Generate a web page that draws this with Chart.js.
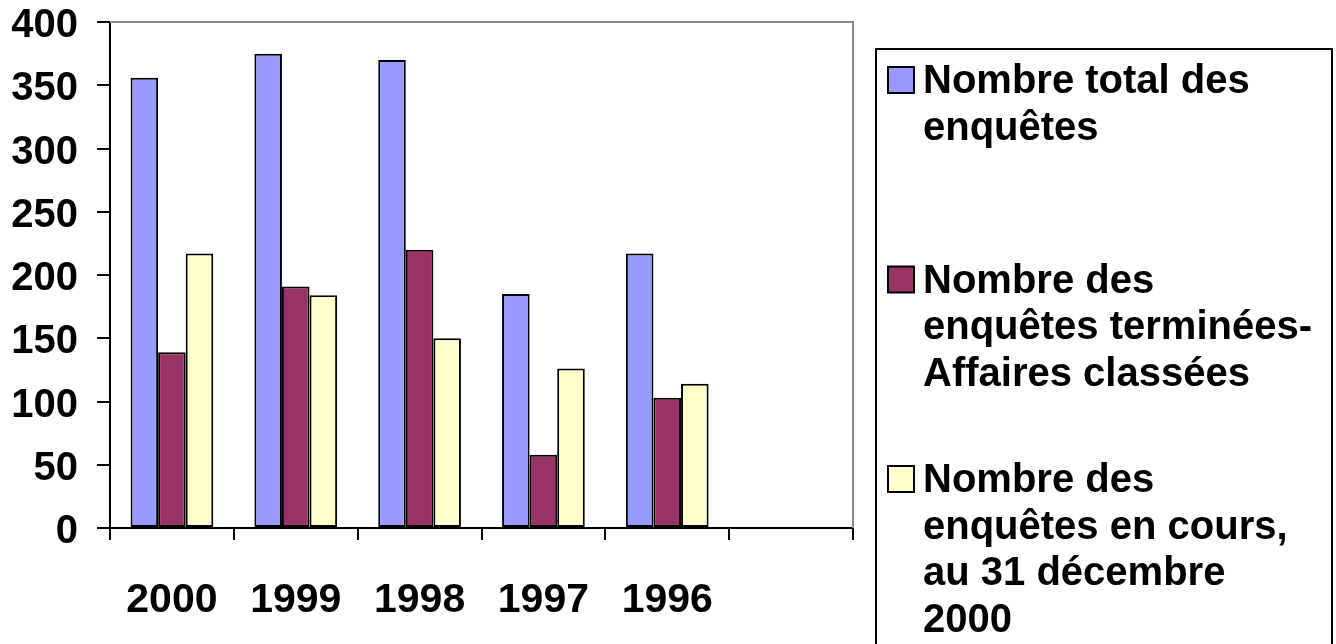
<!DOCTYPE html>
<html>
<head>
<meta charset="utf-8">
<script src="https://cdn.jsdelivr.net/npm/chart.js"></script>
<style>
  body { margin: 0; background: #fff; }
  #wrap { width: 1336px; height: 644px; }
</style>
</head>
<body>
<div id="wrap"><canvas id="myChart" width="1336" height="644"></canvas></div>
<script>
// years on the x axis (last slot is empty in the original)
const years = ['2000', '1999', '1998', '1997', '1996', ''];
const totalEnquetes = [356, 375, 370, 185, 217, null];
const termineesClassees = [139, 191, 220, 58, 103, null];
const enCours = [217, 184, 150, 126, 114, null];

const seriesNames = [
  ['Nombre total des', 'enquêtes'],
  ['Nombre des', 'enquêtes terminées-', 'Affaires classées'],
  ['Nombre des', 'enquêtes en cours,', 'au 31 décembre', '2000']
];
const seriesColors = ['#9999ff', '#993366', '#ffffcc'];

const FONT = '"Liberation Sans", Arial, sans-serif';

// grey top/right frame of the plot area
const plotFrame = {
  id: 'plotFrame',
  beforeDatasetsDraw(chart) {
    const ctx = chart.ctx;
    const a = chart.chartArea;
    ctx.save();
    ctx.strokeStyle = '#8c8c8c';
    ctx.lineWidth = 2;
    ctx.beginPath();
    ctx.moveTo(a.left, a.top);
    ctx.lineTo(a.right, a.top);
    ctx.lineTo(a.right, a.bottom);
    ctx.stroke();
    ctx.restore();
  }
};

// boxed legend on the right, with wrapped labels
const boxLegend = {
  id: 'boxLegend',
  afterDraw(chart) {
    const ctx = chart.ctx;
    const left = chart.chartArea.right + 23;
    const top = 49;
    ctx.save();
    ctx.lineWidth = 2;
    ctx.strokeStyle = '#000';
    ctx.strokeRect(left, top, chart.width - 4 - left, chart.height + 20 - top);
    ctx.font = 'bold 40px ' + FONT;
    ctx.textBaseline = 'alphabetic';
    chart.data.datasets.forEach((ds, i) => {
      const base = 93 + i * 199.5;
      ctx.fillStyle = ds.backgroundColor;
      ctx.fillRect(left + 12, base - 26, 26, 26);
      ctx.strokeRect(left + 12, base - 26, 26, 26);
      ctx.fillStyle = '#000';
      seriesNames[i].forEach((line, j) => {
        ctx.fillText(line, left + 47, base + j * 46.7);
      });
    });
    ctx.restore();
  }
};

const data = {
  labels: years,
  datasets: [
    { label: seriesNames[0].join(' '), data: totalEnquetes, backgroundColor: seriesColors[0] },
    { label: seriesNames[1].join(' '), data: termineesClassees, backgroundColor: seriesColors[1] },
    { label: seriesNames[2].join(' '), data: enCours, backgroundColor: seriesColors[2] }
  ].map(d => Object.assign(d, {
    borderColor: '#000',
    borderWidth: 2,
    borderSkipped: false,
    categoryPercentage: 0.668,
    barPercentage: 1
  }))
};

const config = {
  type: 'bar',
  data: data,
  options: {
    responsive: false,
    animation: false,
    layout: { padding: { left: 0, right: 483, top: 22, bottom: 0 } },
    plugins: {
      legend: { display: false },
      tooltip: { enabled: false }
    },
    scales: {
      x: {
        grid: { drawOnChartArea: false, drawTicks: true, tickLength: 12, color: '#000', lineWidth: 2, offset: true },
        border: { color: '#000', width: 2 },
        ticks: {
          color: '#000',
          font: { family: FONT, size: 41, weight: 'bold' },
          padding: 36,
          maxRotation: 0,
          autoSkip: false
        },
        afterFit(s) {
          s.height = 116;
          s.paddingLeft = 0;
          s.paddingRight = 0;
        }
      },
      y: {
        min: 0,
        max: 400,
        grid: { drawOnChartArea: false, drawTicks: true, tickLength: 13, color: '#000', lineWidth: 2 },
        border: { color: '#000', width: 2 },
        ticks: {
          stepSize: 50,
          color: '#000',
          font: { family: FONT, size: 40, weight: 'bold' },
          padding: 19,
          labelOffset: 4
        },
        afterFit(s) {
          s.width = 110;
          s.paddingTop = 0;
          s.paddingBottom = 0;
        }
      }
    }
  },
  plugins: [plotFrame, boxLegend]
};

const myChart = new Chart(document.getElementById('myChart'), config);
</script>
</body>
</html>
